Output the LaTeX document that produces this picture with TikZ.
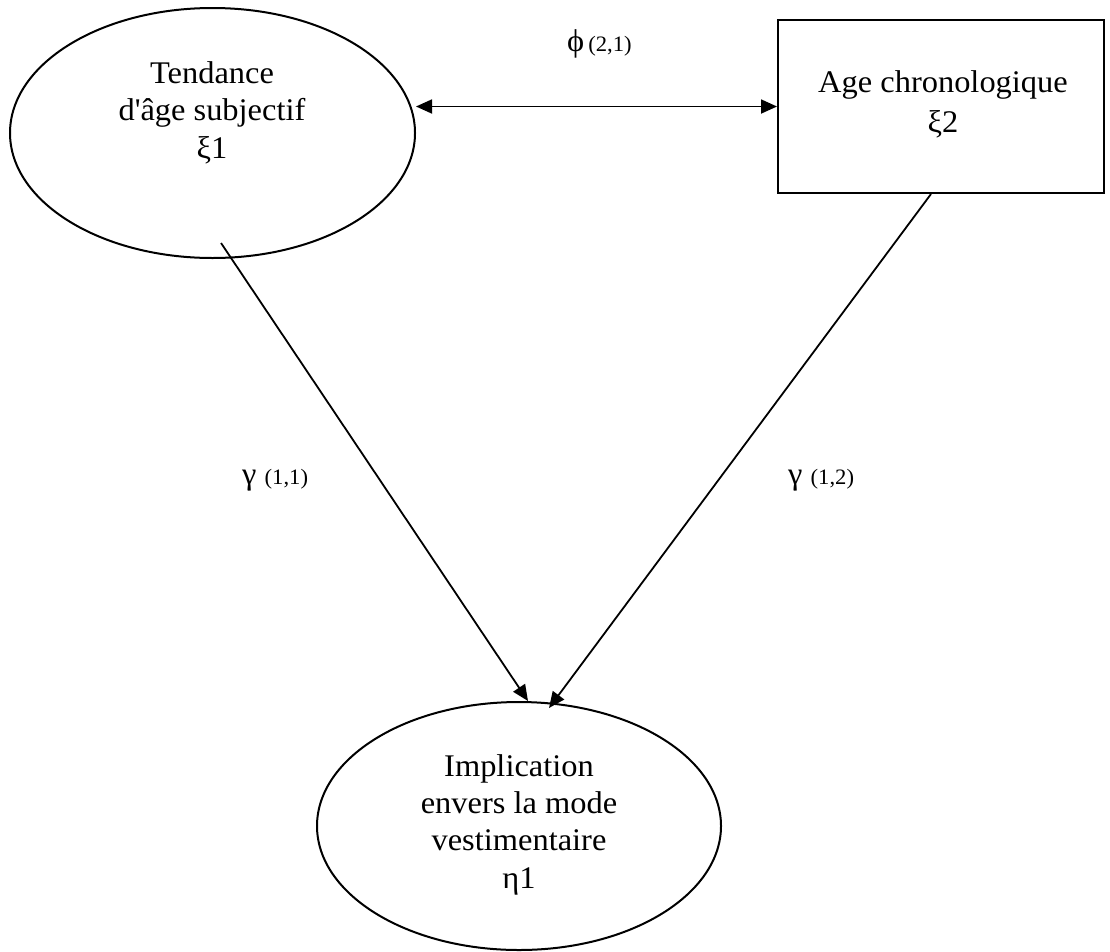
\documentclass[tikz,border=0pt]{standalone}
\usepackage{fontspec}
\setmainfont{Liberation Serif}[FakeStretch=1.03]
\usetikzlibrary{shapes.geometric,arrows.meta,calc}
\begin{document}
\begin{tikzpicture}[x=1pt,y=-1pt,
  lat/.style={ellipse,draw,line width=2pt,inner sep=0pt,minimum width=405pt,minimum height=250pt},
  obs/.style={rectangle,draw,line width=2pt,inner sep=0pt,minimum width=326pt,minimum height=173pt},
  txt/.style={align=center,font=\fontsize{31.5}{37.5}\selectfont,inner sep=0pt,anchor=base},
  coef/.style={font=\fontsize{31.5}{31.5}\selectfont,inner sep=0pt,anchor=base west},
  pathar/.style={line width=1.8pt,-{Triangle[length=16pt,width=14pt]}},
  covar/.style={line width=1.8pt,{Triangle[length=16pt,width=14pt]}-{Triangle[length=16pt,width=14pt]}}]
\useasboundingbox (0,0) rectangle (1110,951);
% shapes
\node[lat] (e1) at (212.5,133) {};
\node[obs] (r) at (941,106.5) {};
\node[lat,minimum width=404pt,minimum height=248pt] (e2) at (519,826) {};
% texts (anchored at the baseline of the last line)
\node[txt] (t1) at (212,158) {Tendance\\d\textquotesingle âge subjectif\\ξ1};
\node[txt,font=\fontsize{31.5}{40}\selectfont] (t2) at (943,132) {Age chronologique\\ξ2};
\node[txt,font=\fontsize{31.5}{37.3}\selectfont] (t3) at (519,888) {Implication\\envers la mode\\vestimentaire\\η1};
% coefficients
\node[coef] (phi) at (567,51) {ϕ\hspace{4pt}{\fontsize{22}{22}\selectfont(2,1)}};
\node[coef] (g11) at (242,484) {γ {\fontsize{22}{22}\selectfont(1,1)}};
\node[coef] (g12) at (788,484) {γ {\fontsize{22}{22}\selectfont(1,2)}};
% connectors
\coordinate (s1) at (221,243);
\coordinate (s2) at ($(r.south)+(-10,0)$);
\coordinate (a1) at ($(e2.north)+(9,0)$);
\coordinate (a2) at (549,708);
\draw[covar] (e1.east |- r.west) -- (r.west);
\draw[pathar] (s1) -- (a1);
\draw[pathar] (s2) -- (a2);
\end{tikzpicture}
\end{document}
